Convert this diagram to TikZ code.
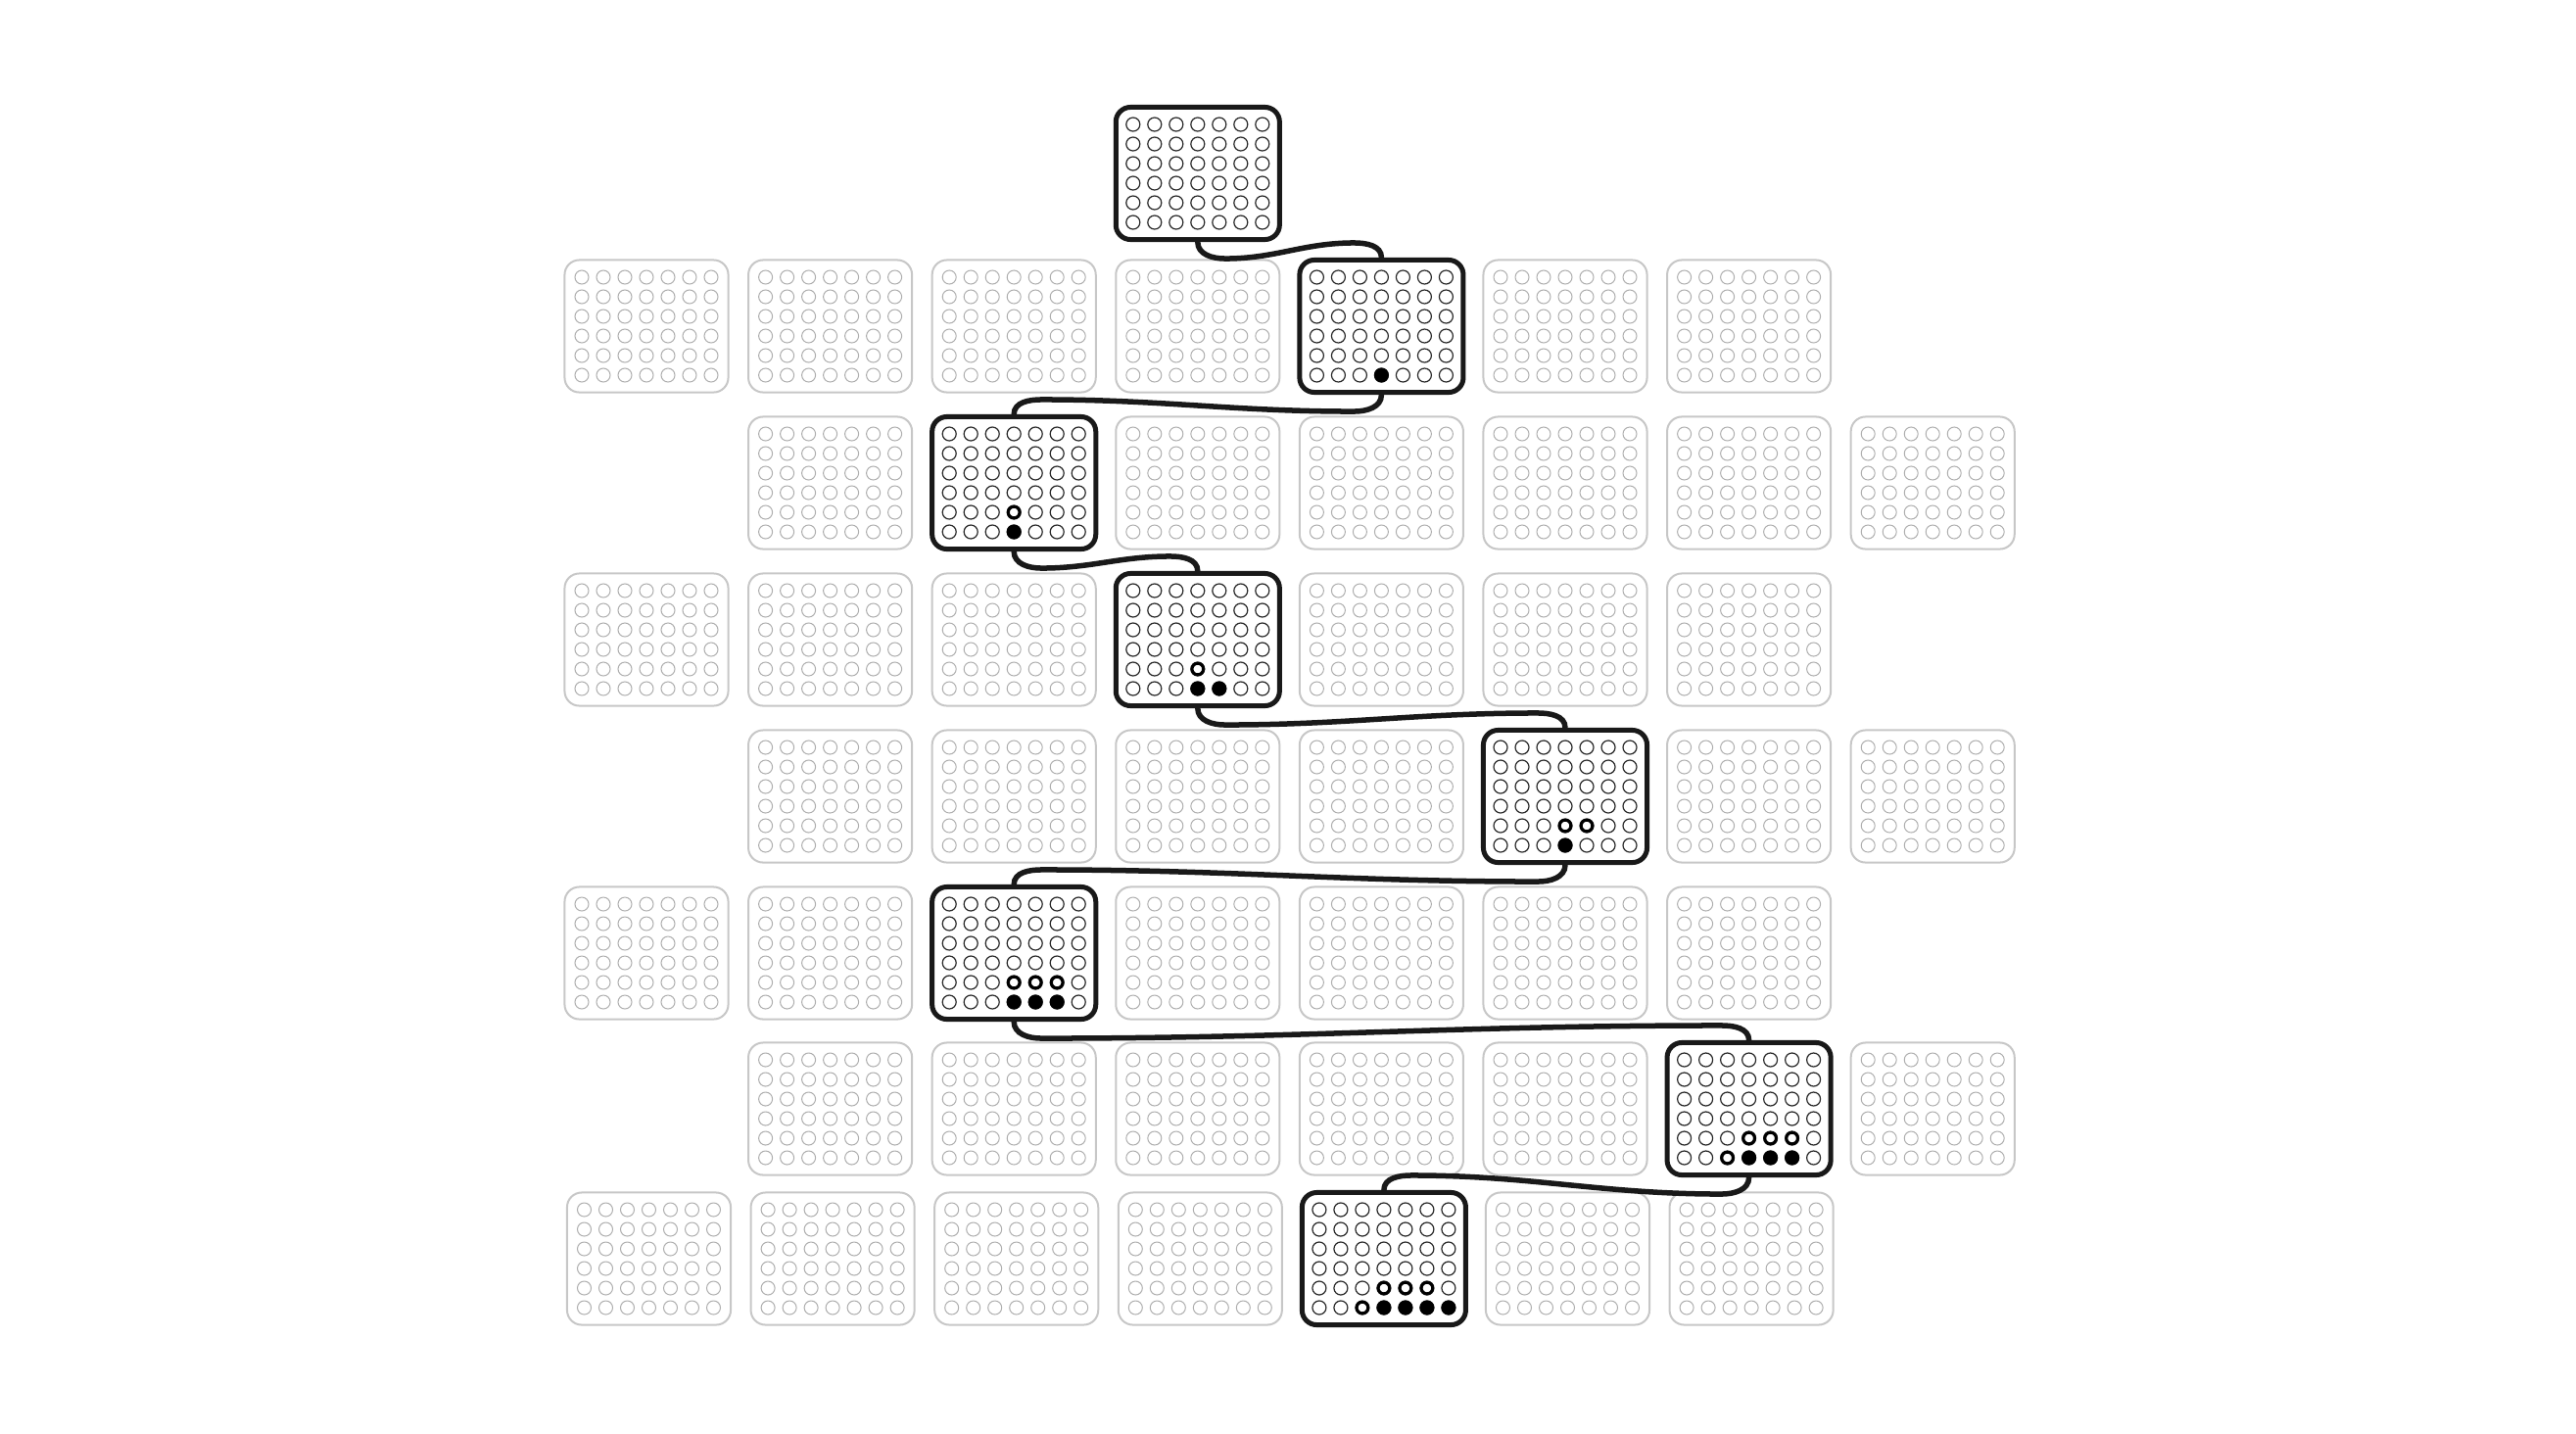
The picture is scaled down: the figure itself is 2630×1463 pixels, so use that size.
\documentclass[tikz,border=0pt]{standalone}
\usetikzlibrary{calc}

\newcommand{\holes}[2]{%
  \begin{scope}[shift={(#1.center)}]
    \foreach \i in {0,...,6} \foreach \j in {0,...,5} \draw[#2] (22*\i-66,50-20*\j) circle (0.07cm);
  \end{scope}}

\begin{document}
\begin{tikzpicture}[x=0.01cm, y=0.01cm,
  board/.style={draw=black!22, line width=0.02cm, rounded corners=0.15cm, minimum width=1.67cm, minimum height=1.35cm, inner sep=0pt},
  played/.style={board, draw=black!90, line width=0.05cm},
  hole/.style={draw=black!32, line width=0.01cm},
  darkhole/.style={draw=black!85, line width=0.012cm},
  ring/.style={draw=black, fill=white, line width=0.03cm},
  cable/.style={black!90, line width=0.055cm, line cap=round}]
\useasboundingbox (0,0) rectangle (2630,-1463);

\node[played] (m0) at (1222.8,-177) {};
\holes{m0}{darkhole}

\foreach \r/\y/\s/\dx/\hl [evaluate=\s as \e using int(\s+6)] in {1/333/0/0/4, 2/493/1/0/2, 3/653/0/0/3, 4/813/1/0/5, 5/973/0/0/2, 6/1132/1/0/6, 7/1285/0/2.5/4}
  \foreach \c in {\s,...,\e} {
    \ifnum\c=\hl
      \node[played] (m\r) at (660+187.6*\c+\dx,-\y) {};
      \holes{m\r}{darkhole}
    \else
      \node[board] (b\r-\c) at (660+187.6*\c+\dx,-\y) {};
      \holes{b\r-\c}{hole}
    \fi}

% discs
\foreach \r/\c/\j in {1/3/5, 2/3/5, 3/3/5, 3/4/5, 4/3/5, 5/3/5, 5/4/5, 5/5/5, 6/3/5, 6/4/5, 6/5/5, 7/3/5, 7/4/5, 7/5/5, 7/6/5}
  \fill[black] (m\r.center) ++(22*\c-66,50-20*\j) circle (0.075cm);
\foreach \r/\c/\j in {2/3/4, 3/3/4, 4/3/4, 4/4/4, 5/3/4, 5/4/4, 5/5/4, 6/3/4, 6/4/4, 6/5/4, 6/2/5, 7/3/4, 7/4/4, 7/5/4, 7/2/5}
  \draw[ring] (m\r.center) ++(22*\c-66,50-20*\j) circle (0.058cm);

% cables between moves
\foreach \a/\b/\d in {0/1/1, 1/2/-1, 2/3/1, 3/4/1, 4/5/-1, 5/6/1, 6/7/-1}
  \draw[cable] (m\a.south) to[out=-90, in={90+90*\d}] ($(m\a.south)+({28*\d},-17)$)
    to[out={90-90*\d}, in={90+90*\d}] ($(m\b.north)+({-28*\d},15)$) to[out={90-90*\d}, in=90] (m\b.north);

\end{tikzpicture}
\end{document}
